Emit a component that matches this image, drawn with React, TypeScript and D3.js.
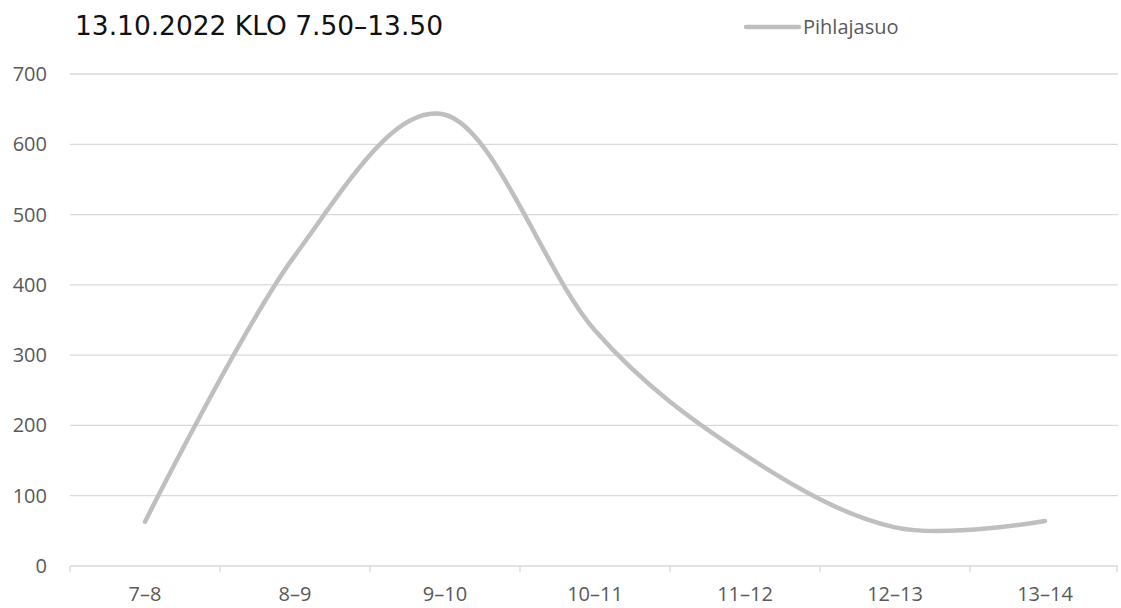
import React, { useEffect, useRef } from "react";
import * as d3 from "d3";

const categories = ["7–8", "8–9", "9–10", "10–11", "11–12", "12–13", "13–14"];
const values = [63, 442, 642, 335, 158, 55, 64];
const yTicks = [0, 100, 200, 300, 400, 500, 600, 700];
const title = "13.10.2022 KLO 7.50–13.50";
const seriesName = "Pihlajasuo";

const W = 1121;
const H = 608;

const App: React.FC = () => {
  const ref = useRef<SVGSVGElement>(null);

  useEffect(() => {
    const svg = d3.select(ref.current);
    svg.selectAll("*").remove();

    const margin = { left: 70, right: 1, top: 74, bottom: 42 };
    const x = d3
      .scaleBand()
      .domain(categories)
      .range([margin.left, W - margin.right]);
    const y = d3
      .scaleLinear()
      .domain([0, 700])
      .range([H - margin.bottom, margin.top]);

    const font = "'Open Sans', 'Noto Sans', sans-serif";
    const textColor = "#595959";
    const fs = 20;

    // gridlines
    svg
      .append("g")
      .selectAll("line")
      .data(yTicks)
      .enter()
      .append("line")
      .attr("x1", margin.left)
      .attr("x2", W - 3)
      .attr("y1", (d) => y(d))
      .attr("y2", (d) => y(d))
      .attr("stroke", "#d9d9d9")
      .attr("stroke-width", 1.3);

    // y labels
    svg
      .append("g")
      .selectAll("text")
      .data(yTicks)
      .enter()
      .append("text")
      .attr("x", 47)
      .attr("y", (d) => y(d))
      .attr("dy", "0.35em")
      .attr("text-anchor", "end")
      .attr("font-family", font)
      .attr("font-size", fs)
      .attr("fill", textColor)
      .text((d) => d);

    // x tick marks
    const bounds = categories.map((c) => x(c)!).concat([x.range()[1] - 3]);
    svg
      .append("g")
      .selectAll("line")
      .data(bounds)
      .enter()
      .append("line")
      .attr("x1", (d) => d)
      .attr("x2", (d) => d)
      .attr("y1", y(0))
      .attr("y2", y(0) + 6)
      .attr("stroke", "#d9d9d9")
      .attr("stroke-width", 1.3);

    // x labels
    svg
      .append("g")
      .selectAll("text")
      .data(categories)
      .enter()
      .append("text")
      .attr("x", (d) => x(d)! + x.bandwidth() / 2)
      .attr("y", y(0) + 35)
      .attr("text-anchor", "middle")
      .attr("font-family", font)
      .attr("font-size", fs)
      .attr("fill", textColor)
      .text((d) => d);

    // line
    const line = d3
      .line<number>()
      .x((_d, i) => x(categories[i])! + x.bandwidth() / 2)
      .y((d) => y(d))
      .curve(d3.curveCatmullRom.alpha(0));

    svg
      .append("path")
      .datum(values)
      .attr("d", line)
      .attr("fill", "none")
      .attr("stroke", "#bfbfbf")
      .attr("stroke-width", 4.5)
      .attr("stroke-linecap", "round");

    // title
    svg
      .append("text")
      .attr("x", 75)
      .attr("y", 35)
      .attr("font-family", "'DejaVu Sans', sans-serif")
      .attr("font-size", 27)
      .attr("textLength", 368)
      .attr("lengthAdjust", "spacingAndGlyphs")
      .attr("fill", "#111")
      .text(title);

    // legend
    svg
      .append("line")
      .attr("x1", 746)
      .attr("x2", 799)
      .attr("y1", 27)
      .attr("y2", 27)
      .attr("stroke", "#bfbfbf")
      .attr("stroke-width", 4.5)
      .attr("stroke-linecap", "round");
    svg
      .append("text")
      .attr("x", 803)
      .attr("y", 27)
      .attr("dy", "0.35em")
      .attr("font-family", font)
      .attr("font-size", fs)
      .attr("fill", textColor)
      .text(seriesName);
  }, []);

  return (
    <svg
      ref={ref}
      width={W}
      height={H}
      style={{ position: "absolute", left: 0, top: 0, background: "#fff" }}
    />
  );
};

export default App;
